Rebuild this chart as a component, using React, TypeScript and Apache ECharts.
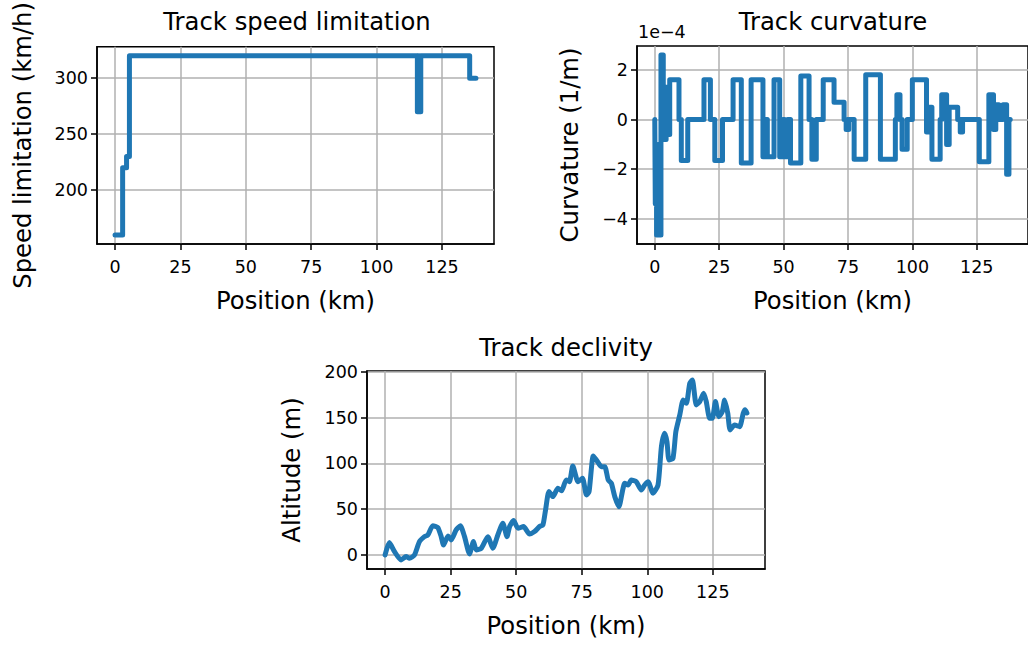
import React, { useEffect, useRef } from "react";
import * as echarts from "echarts";

// ---------- tick labels ----------
const positionTicks = [0, 25, 50, 75, 100, 125];
const speedTicks = [200, 250, 300];
const curvatureTicks = [-4, -2, 0, 2]; // in units of 1e-4 1/m
const altitudeTicks = [0, 50, 100, 150, 200];

// ---------- speed limitation (step: value holds from position until next position) ----------
const speedPos = [0, 2.9, 4.4, 5.5, 115.6, 115.9, 116.1, 116.4, 116.6, 116.9, 135.6, 138.0];
const speedVal = [160, 220, 230, 320, 270, 320, 270, 320, 270, 320, 300, 300];

// ---------- curvature (1e-4 1/m, step) ----------
const curvPos = [
  0, 0.2, 0.7, 1.3, 1.7, 2.4, 3.3, 4.4, 5.0, 5.8, 9.4, 10.3, 12.8, 19.1, 21.6, 23.3, 26.3, 30.4, 33.6, 37.4,
  42.0, 43.2, 43.7, 46.3, 48.5, 49.8, 50.4, 51.6, 52.7, 56.7, 59.9, 61.0, 62.7, 65.4, 69.6, 73.5, 74.3, 75.3,
  77.4, 81.9, 87.6, 93.4, 94.0, 95.2, 96.0, 98.0, 100.0, 105.5, 106.3, 107.6, 110.8, 111.4, 113.3, 114.3,
  117.6, 118.6, 119.5, 126.0, 129.7, 131.5, 132.4, 133.6, 135.2, 136.6, 137.5, 138.0,
];
const curvVal = [
  0, -3.4, -4.65, -1.0, -4.65, 2.6, -0.8, 1.3, -0.6, 1.6, 0, -1.65, 0, 1.6, 0, -1.65, 0, 1.6, -1.75, 1.6,
  -1.5, 0, -1.5, 1.6, -1.5, 0, -1.5, 0, -1.75, 1.75, 0, -1.6, 0, 1.6, 0.7, 0, -0.4, 0,
  -1.6, 1.8, -1.6, 0, 1.0, 0, -1.2, 0, 1.6, -0.5, 0.5, -1.6, 0, 1.0, -1.0, 0.5,
  0, -0.5, 0, -1.7, 1.0, -0.4, 0.6, 0, 0.6, -2.2, 0, 0,
];

// ---------- altitude ----------
const altPos = [
  0, 1.6, 3.6, 6.1, 8.0, 9.3, 11.2, 13.1, 15.0, 16.3, 18.2, 20.1, 21.4, 22.3, 24.0, 25.2, 27.1, 28.7, 30.3,
  32.2, 33.7, 34.8, 36.7, 39.2, 41.1, 43.0, 44.9, 46.5, 47.5, 49.0, 50.7, 52.8, 55.1, 57.0, 58.9, 60.2, 61.2,
  62.5, 64.0, 65.9, 67.3, 69.1, 70.3, 71.6, 73.6, 75.3, 76.8, 77.8, 79.4, 80.6, 82.5, 83.8, 85.1, 86.3, 87.6,
  89.2, 90.5, 91.4, 92.7, 93.9, 95.8, 97.7, 99.0, 100.3, 102.2, 104.1, 105.4, 106.6, 107.5, 108.3, 109.8,
  110.9, 112.4, 113.7, 114.9, 116.2, 117.2, 118.7, 120.0, 121.5, 122.5, 123.8, 124.8, 126.0, 127.3, 128.6,
  129.5, 130.7, 131.6, 133.3, 135.2, 136.6, 137.3, 138.0,
];
const altVal = [
  0, 13.5, 3.6, -5.5, -1.8, -3.6, 0, 14.6, 20, 21.8, 31.9, 30, 20, 10.9, 20.7, 16.4, 27.3, 31.9, 20,
  1.1, 14.6, 5.5, 7.3, 20, 7.3, 21.8, 34.6, 20, 31, 37.5, 29.1, 31, 22.9, 25.5, 31, 32.8, 49.1,
  69.2, 63.7, 72.8, 70, 81.9, 80, 97, 80, 83.7, 65.5, 69.2, 108.1, 103.7, 96.4, 96.4, 81.9, 78.3, 63.7,
  52.7, 69.2, 78.3, 76.4, 81.9, 80, 70.9, 76.4, 80, 67.4, 76.4, 118.2, 132.8, 123.7, 103.7, 105.5,
  134.6, 152.9, 169.2, 165.5, 187.4, 191, 163.8, 167.4, 176.5, 167.4, 149.2, 149.2, 167.4, 151, 156.5,
  169.2, 154.7, 136.5, 141.9, 140.1, 154.7, 158.5, 155,
];

const FONT = "DejaVu Sans";
const LINE_COLOR = "#1f77b4";
const BIG = 24.3;
const SMALL = 17.5;

function padded(vals: number[]): [number, number] {
  const mn = Math.min(...vals);
  const mx = Math.max(...vals);
  const r = mx - mn;
  return [mn - 0.05 * r, mx + 0.05 * r];
}

const fmt = (v: number) => (v < 0 ? "\u2212" + String(Math.abs(v)) : String(v));

function xAxisCfg(gridIndex: number, ext: [number, number]) {
  return {
    type: "value",
    gridIndex,
    min: ext[0],
    max: ext[1],
    name: "Position (km)",
    nameLocation: "middle",
    nameGap: 44,
    nameTextStyle: { fontFamily: FONT, fontSize: BIG, color: "#000" },
    axisLine: { show: true, onZero: false, lineStyle: { color: "#000", width: 1.5 } },
    axisTick: { show: true, customValues: positionTicks, length: 6, lineStyle: { color: "#000", width: 1.5 } },
    axisLabel: { customValues: positionTicks, fontFamily: FONT, fontSize: SMALL, color: "#000", margin: 14, formatter: fmt },
    splitLine: { show: true, lineStyle: { color: "#b0b0b0", width: 1.5 } },
  };
}

function yAxisCfg(gridIndex: number, ext: [number, number], ticks: number[], name: string, nameGap: number) {
  return {
    type: "value",
    gridIndex,
    min: ext[0],
    max: ext[1],
    name,
    nameLocation: "middle",
    nameGap,
    nameRotate: 90,
    nameTextStyle: { fontFamily: FONT, fontSize: BIG, color: "#000" },
    axisLine: { show: true, onZero: false, lineStyle: { color: "#000", width: 1.5 } },
    axisTick: { show: true, customValues: ticks, length: 6, lineStyle: { color: "#000", width: 1.5 } },
    axisLabel: { customValues: ticks, fontFamily: FONT, fontSize: SMALL, color: "#000", margin: 9, formatter: fmt },
    splitLine: { show: true, lineStyle: { color: "#b0b0b0", width: 1.5 } },
  };
}

function lineSeries(idx: number, xs: number[], ys: number[], step: boolean) {
  return {
    type: "line",
    xAxisIndex: idx,
    yAxisIndex: idx,
    data: xs.map((x, i) => [x, ys[i]]),
    step: step ? "end" : false,
    smooth: step ? false : 0.2,
    showSymbol: false,
    symbol: "none",
    silent: true,
    clip: true,
    lineStyle: { color: LINE_COLOR, width: 5, cap: "round", join: "round" },
  };
}

export default function App() {
  const ref = useRef<HTMLDivElement>(null);

  useEffect(() => {
    if (!ref.current) return;
    const chart = echarts.init(ref.current, undefined, { renderer: "svg" });
    const gridBase = { show: true, borderColor: "#000", borderWidth: 1.5, backgroundColor: "#fff", containLabel: false };
    const option = {
      animation: false,
      backgroundColor: "#fff",
      textStyle: { fontFamily: FONT },
      grid: [
        { ...gridBase, left: 97, top: 46, width: 397, height: 198 },
        { ...gridBase, left: 637, top: 46, width: 397, height: 198 },
        { ...gridBase, left: 367, top: 371, width: 398, height: 198 },
      ],
      xAxis: [
        xAxisCfg(0, padded(speedPos)),
        xAxisCfg(1, padded(curvPos)),
        xAxisCfg(2, padded(altPos)),
      ],
      yAxis: [
        yAxisCfg(0, padded(speedVal), speedTicks, "Speed limitation (km/h)", 63),
        yAxisCfg(1, padded(curvVal), curvatureTicks, "Curvature (1/m)", 56),
        yAxisCfg(2, padded(altVal), altitudeTicks, "Altitude (m)", 64),
      ],
      series: [
        lineSeries(0, speedPos, speedVal, true),
        lineSeries(1, curvPos, curvVal, true),
        lineSeries(2, altPos, altVal, false),
      ],
      graphic: [
        { type: "text", x: 297, y: 21, style: { text: "Track speed limitation", fontFamily: FONT, fontSize: BIG, fill: "#000", align: "center", verticalAlign: "middle" } },
        { type: "text", x: 833, y: 21, style: { text: "Track curvature", fontFamily: FONT, fontSize: BIG, fill: "#000", align: "center", verticalAlign: "middle" } },
        { type: "text", x: 566, y: 347, style: { text: "Track declivity", fontFamily: FONT, fontSize: BIG, fill: "#000", align: "center", verticalAlign: "middle" } },
        { type: "text", x: 638, y: 32, style: { text: "1e\u22124", fontFamily: FONT, fontSize: SMALL, fill: "#000", align: "left", verticalAlign: "middle" } },
      ],
    };
    chart.setOption(option as any);
    return () => chart.dispose();
  }, []);

  return (
    <div
      ref={ref}
      style={{ position: "fixed", left: 0, top: 0, width: 1028, height: 646, background: "#fff" }}
    />
  );
}
